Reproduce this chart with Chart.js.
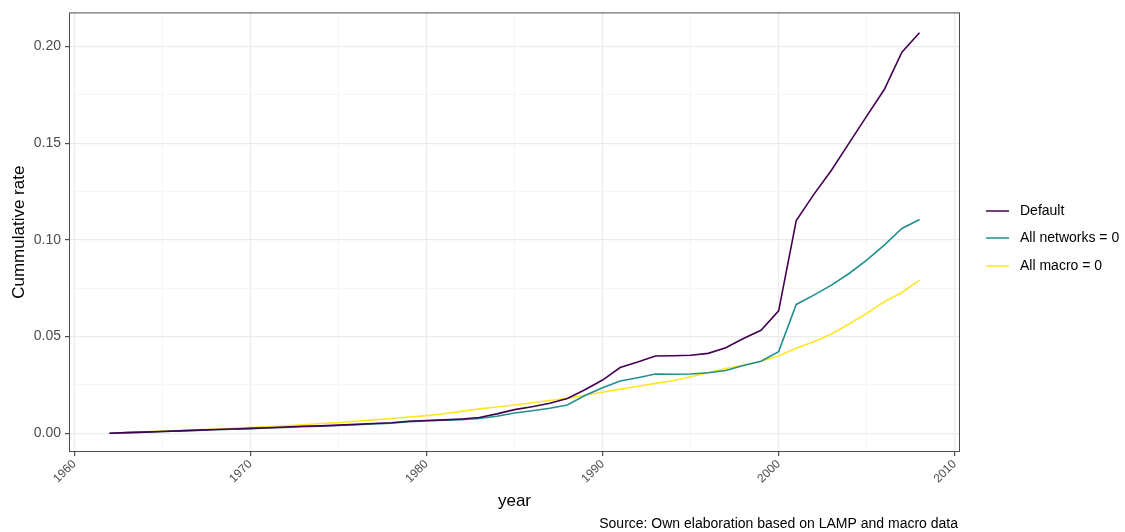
<!DOCTYPE html>
<html>
<head>
<meta charset="utf-8">
<script src="https://cdn.jsdelivr.net/npm/chart.js@4.4.1/dist/chart.umd.min.js"></script>
<style>
  html, body { margin: 0; padding: 0; background: #fff; }
</style>
</head>
<body>
<canvas id="chart" width="1125" height="532"></canvas>
<script>
const years = [1962, 1963, 1964, 1965, 1966, 1967, 1968, 1969, 1970, 1971,
  1972, 1973, 1974, 1975, 1976, 1977, 1978, 1979, 1980, 1981,
  1982, 1983, 1984, 1985, 1986, 1987, 1988, 1989, 1990, 1991,
  1992, 1993, 1994, 1995, 1996, 1997, 1998, 1999, 2000, 2001,
  2002, 2003, 2004, 2005, 2006, 2007, 2008];

const defaultRate = [0.0000, 0.0003, 0.0006, 0.0009, 0.0012, 0.0016, 0.0019, 0.0022, 0.0025, 0.0028,
  0.0032, 0.0036, 0.0038, 0.0042, 0.0046, 0.0050, 0.0054, 0.0062, 0.0066, 0.0069,
  0.0074, 0.0081, 0.0100, 0.0122, 0.0137, 0.0155, 0.0180, 0.0225, 0.0275, 0.0340,
  0.0368, 0.0399, 0.0401, 0.0403, 0.0413, 0.0442, 0.0490, 0.0532, 0.0633, 0.1100,
  0.1235, 0.1360, 0.1500, 0.1640, 0.1777, 0.1970, 0.2071];

const networksZero = [0.0000, 0.0003, 0.0006, 0.0009, 0.0012, 0.0015, 0.0018, 0.0021, 0.0024, 0.0027,
  0.0030, 0.0034, 0.0036, 0.0040, 0.0044, 0.0048, 0.0052, 0.0060, 0.0064, 0.0067,
  0.0070, 0.0076, 0.0088, 0.0105, 0.0116, 0.0129, 0.0146, 0.0195, 0.0235, 0.0270,
  0.0287, 0.0306, 0.0305, 0.0306, 0.0313, 0.0324, 0.0350, 0.0372, 0.0422, 0.0666,
  0.0714, 0.0766, 0.0826, 0.0895, 0.0973, 0.1059, 0.1105];

const macroZero = [0.0000, 0.0003, 0.0007, 0.0011, 0.0014, 0.0018, 0.0021, 0.0025, 0.0029, 0.0034,
  0.0039, 0.0044, 0.0050, 0.0055, 0.0062, 0.0069, 0.0076, 0.0084, 0.0091, 0.0101,
  0.0113, 0.0126, 0.0136, 0.0146, 0.0158, 0.0169, 0.0181, 0.0196, 0.0212, 0.0228,
  0.0243, 0.0258, 0.0271, 0.0292, 0.0313, 0.0335, 0.0352, 0.0372, 0.0399, 0.0439,
  0.0473, 0.0513, 0.0565, 0.0620, 0.0680, 0.0728, 0.0792];

const seriesLabels = ['Default', 'All networks = 0', 'All macro = 0'];
const seriesColors = ['#440154', '#21908C', '#FDE725'];

const xTicks = [1960, 1965, 1970, 1975, 1980, 1985, 1990, 1995, 2000, 2005, 2010];
const yTicks = [0, 0.025, 0.05, 0.075, 0.1, 0.125, 0.15, 0.175, 0.2];

const FONT = '"Liberation Sans", Arial, sans-serif';

function toPoints(vals) {
  return years.map((y, i) => ({ x: y, y: vals[i] }));
}

// ggplot-ish extras: panel border, legend, axis titles, caption
const decorations = {
  id: 'decorations',
  afterDraw(chart) {
    const { ctx, chartArea: a } = chart;
    ctx.save();
    ctx.strokeStyle = '#4d4d4d';
    ctx.lineWidth = 1;
    ctx.strokeRect(a.left + 0.5, a.top + 0.5, a.right - a.left - 1, a.bottom - a.top - 1);

    // legend
    const rows = [211, 238, 266];
    ctx.font = '14px ' + FONT;
    ctx.textBaseline = 'middle';
    ctx.textAlign = 'left';
    seriesLabels.forEach((lab, i) => {
      ctx.strokeStyle = seriesColors[i];
      ctx.lineWidth = 1.5;
      ctx.beginPath();
      ctx.moveTo(986, rows[i]);
      ctx.lineTo(1009, rows[i]);
      ctx.stroke();
      ctx.fillStyle = '#000';
      ctx.fillText(lab, 1020, rows[i]);
    });

    // axis titles
    ctx.fillStyle = '#000';
    ctx.font = '17px ' + FONT;
    ctx.textAlign = 'center';
    ctx.fillText('year', (a.left + a.right) / 2, 501);
    ctx.save();
    ctx.translate(19, (a.top + a.bottom) / 2);
    ctx.rotate(-Math.PI / 2);
    ctx.fillText('Cummulative rate', 0, 0);
    ctx.restore();

    // caption
    ctx.font = '14px ' + FONT;
    ctx.textAlign = 'right';
    ctx.fillText('Source: Own elaboration based on LAMP and macro data', 958, 524);
    ctx.restore();
  }
};

new Chart(document.getElementById('chart'), {
  type: 'line',
  data: {
    datasets: seriesLabels.map((lab, i) => ({
      label: lab,
      data: toPoints([defaultRate, networksZero, macroZero][i]),
      borderColor: seriesColors[i],
      backgroundColor: seriesColors[i],
      borderWidth: 1.6,
      pointRadius: 0,
      tension: 0,
      fill: false,
    }))
  },
  options: {
    responsive: false,
    animation: false,
    devicePixelRatio: 1,
    layout: { padding: { top: 12, right: 165, bottom: 0, left: 0 } },
    plugins: {
      legend: { display: false },
      tooltip: { enabled: false },
    },
    scales: {
      x: {
        type: 'linear',
        min: 1959.7,
        max: 2010.3,
        afterBuildTicks: (s) => { s.ticks = xTicks.map(v => ({ value: v })); },
        afterFit: (s) => { s.height = 80; },
        border: { display: false },
        grid: {
          color: (c) => (c.tick && c.tick.value % 10 === 0) ? '#ebebeb' : '#f4f4f4',
          lineWidth: (c) => (c.tick && c.tick.value % 10 === 0) ? 1.2 : 0.8,
          tickColor: (c) => (c.tick && c.tick.value % 10 === 0) ? '#4d4d4d' : 'rgba(0,0,0,0)',
          tickLength: 4,
          drawTicks: true,
        },
        ticks: {
          autoSkip: false,
          minRotation: 45,
          maxRotation: 45,
          padding: 1,
          color: '#4d4d4d',
          font: { family: FONT, size: 12 },
          callback: (v) => (v % 10 === 0 ? String(v) : ''),
        },
      },
      y: {
        type: 'linear',
        min: -0.0097,
        max: 0.2176,
        afterBuildTicks: (s) => { s.ticks = yTicks.map(v => ({ value: v })); },
        afterFit: (s) => { s.width = 69; },
        border: { display: false },
        grid: {
          color: (c) => (c.index % 2 === 0) ? '#ebebeb' : '#f4f4f4',
          lineWidth: (c) => (c.index % 2 === 0) ? 1.2 : 0.8,
          tickColor: (c) => (c.index % 2 === 0) ? '#4d4d4d' : 'rgba(0,0,0,0)',
          tickLength: 4,
          drawTicks: true,
        },
        ticks: {
          autoSkip: false,
          padding: 4,
          color: '#4d4d4d',
          font: { family: FONT, size: 14 },
          callback: (v, i) => (i % 2 === 0 ? v.toFixed(2) : ''),
        },
      },
    },
  },
  plugins: [decorations],
});
</script>
</body>
</html>
